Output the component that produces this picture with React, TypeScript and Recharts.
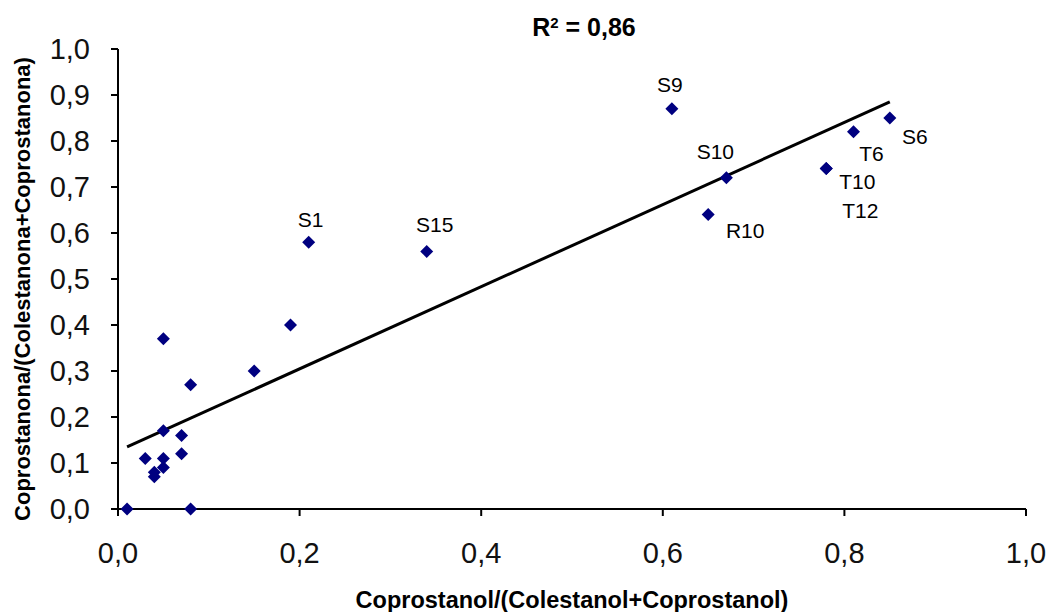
import React from 'react';
import { ScatterChart, Scatter, XAxis, YAxis } from 'recharts';

// samples: ratio on x, ratio on y
const xVals = [0.01, 0.08, 0.05, 0.08, 0.15, 0.19, 0.05, 0.07, 0.07, 0.03, 0.05, 0.05, 0.04, 0.04, 0.21, 0.34, 0.61, 0.67, 0.65, 0.78, 0.78, 0.81, 0.85];
const yVals = [0.0, 0.0, 0.37, 0.27, 0.3, 0.4, 0.17, 0.16, 0.12, 0.11, 0.11, 0.09, 0.08, 0.07, 0.58, 0.56, 0.87, 0.72, 0.64, 0.74, 0.74, 0.82, 0.85];
const names = ['', '', '', '', '', '', '', '', '', '', '', '', '', '', 'S1', 'S15', 'S9', 'S10', 'R10', 'T10', 'T12', 'T6', 'S6'];

// linear trend endpoints
const trendX = [0.01, 0.85];
const trendY = [0.135, 0.885];

const xTicks = [0, 0.2, 0.4, 0.6, 0.8, 1.0];
const yTicks = [0, 0.1, 0.2, 0.3, 0.4, 0.5, 0.6, 0.7, 0.8, 0.9, 1.0];

// where each point label sits relative to its marker
const labelOffset: Record<string, [number, number]> = {
    S1: [2, -23],
    S15: [8, -27],
    S9: [-2, -24],
    S10: [-11, -26],
    R10: [37, 16],
    T10: [31, 13],
    T12: [34, 42],
    T6: [18, 22],
    S6: [25, 18],
};

const points = xVals.map((x, i) => ({ x, y: yVals[i], name: names[i] }));
const trend = trendX.map((x, i) => ({ x, y: trendY[i] }));

const font = '"Liberation Sans", Arial, sans-serif';
const fmt = (v: number) => v.toFixed(1).replace('.', ',');

function Diamond(props: any) {
    const { cx, cy, payload } = props;
    const off = payload && payload.name ? labelOffset[payload.name] : null;
    return (
        <g>
            <polygon
                points={`${cx},${cy - 6.5} ${cx + 6.5},${cy} ${cx},${cy + 6.5} ${cx - 6.5},${cy}`}
                fill="#000080"
            />
            {off && (
                <text
                    x={cx + off[0]}
                    y={cy + off[1]}
                    textAnchor="middle"
                    dominantBaseline="central"
                    fontFamily={font}
                    fontSize={21}
                    fill="#000"
                >
                    {payload.name}
                </text>
            )}
        </g>
    );
}

export default function App() {
    return (
        <div style={{ position: 'absolute', left: 0, top: 0, width: 1049, height: 612, background: '#fff', fontFamily: font, overflow: 'hidden' }}>
            <ScatterChart width={1049} height={612} margin={{ top: 49, right: 23, bottom: 0, left: 0 }}>
                <XAxis
                    type="number"
                    dataKey="x"
                    domain={[0, 1]}
                    ticks={xTicks}
                    tickFormatter={fmt}
                    height={103}
                    tickSize={7}
                    tickMargin={26}
                    axisLine={{ stroke: '#000', strokeWidth: 2 }}
                    tickLine={{ stroke: '#000', strokeWidth: 2 }}
                    tick={{ fill: '#111', fontSize: 29, fontFamily: font }}
                />
                <YAxis
                    type="number"
                    dataKey="y"
                    domain={[0, 1]}
                    ticks={yTicks}
                    tickFormatter={fmt}
                    width={118}
                    tickSize={7}
                    tickMargin={21}
                    axisLine={{ stroke: '#000', strokeWidth: 2 }}
                    tickLine={{ stroke: '#000', strokeWidth: 2 }}
                    tick={{ fill: '#111', fontSize: 29, fontFamily: font }}
                />
                <Scatter
                    data={trend}
                    line={{ stroke: '#000', strokeWidth: 3 }}
                    shape={() => <g />}
                    isAnimationActive={false}
                />
                <Scatter data={points} shape={Diamond} isAnimationActive={false} />
            </ScatterChart>
            <div
                style={{
                    position: 'absolute',
                    left: 484,
                    width: 200,
                    top: 12,
                    textAlign: 'center',
                    fontWeight: 'bold',
                    fontSize: 25,
                    lineHeight: '30px',
                }}
            >
                R<sup style={{ fontSize: 15, verticalAlign: 'top', position: 'relative', top: -4 }}>2</sup> = 0,86
            </div>
            <div
                style={{
                    position: 'absolute',
                    left: 272,
                    width: 600,
                    top: 587,
                    textAlign: 'center',
                    fontWeight: 'bold',
                    fontSize: 23.5,
                    lineHeight: '26px',
                    whiteSpace: 'nowrap',
                }}
            >
                Coprostanol/(Colestanol+Coprostanol)
            </div>
            <div
                style={{
                    position: 'absolute',
                    left: 22.5 - 300,
                    top: 289 - 13,
                    width: 600,
                    textAlign: 'center',
                    fontWeight: 'bold',
                    fontSize: 22,
                    lineHeight: '26px',
                    whiteSpace: 'nowrap',
                    transform: 'rotate(-90deg)',
                }}
            >
                Coprostanona/(Colestanona+Coprostanona)
            </div>
        </div>
    );
}
